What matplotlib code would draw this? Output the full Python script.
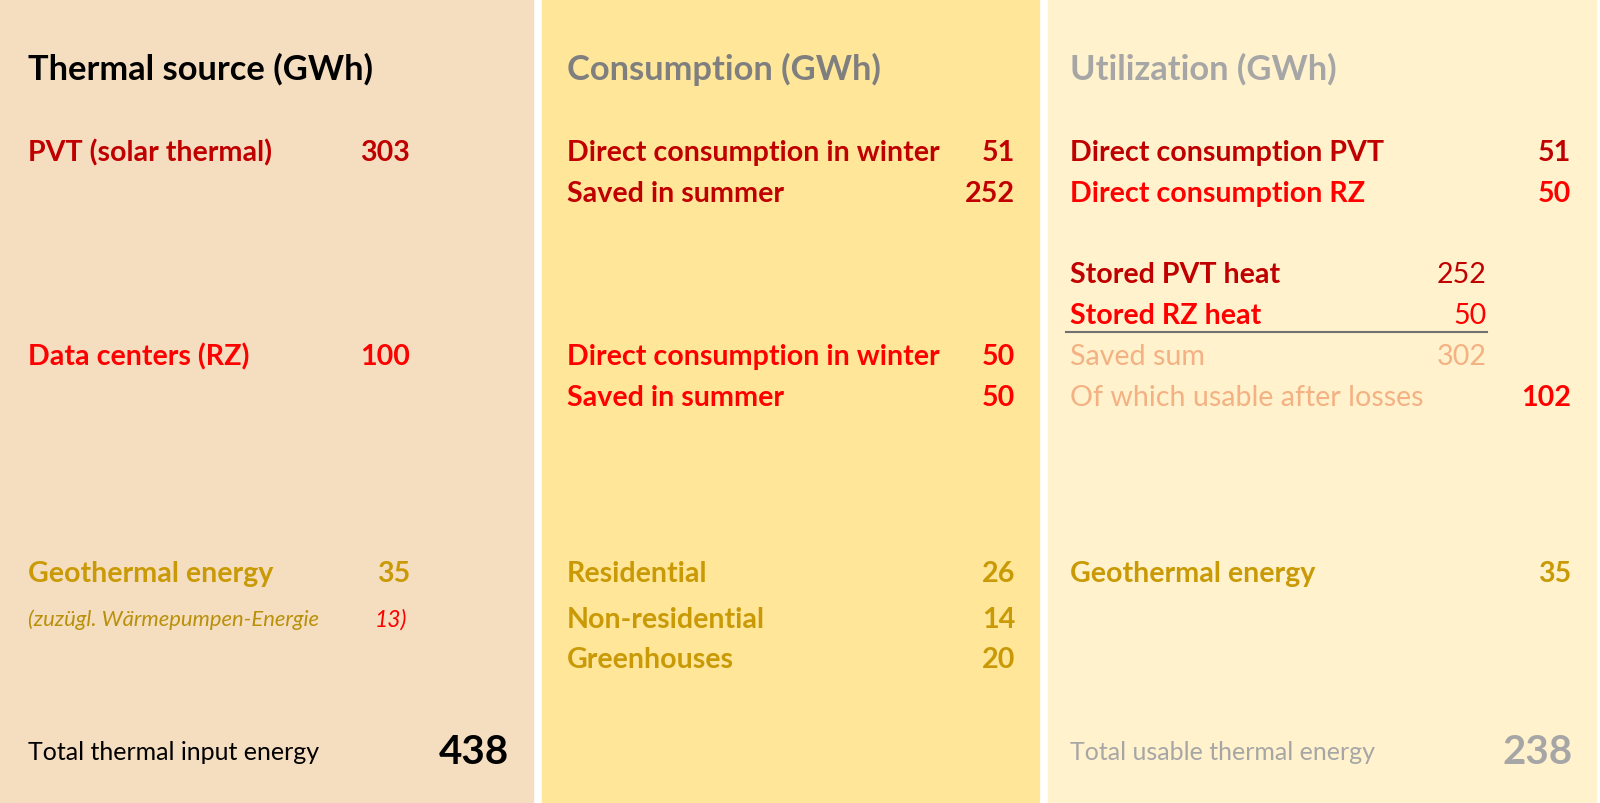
import matplotlib
matplotlib.use("Agg")
import matplotlib.pyplot as plt
from matplotlib.patches import Rectangle

# ---------------- data ----------------
panel_titles = ["Thermal source (GWh)", "Consumption (GWh)", "Utilization (GWh)"]

source_labels = ["PVT (solar thermal)", "Data centers (RZ)", "Geothermal energy"]
source_values = [303, 100, 35]
note_label = "(zuzügl. Wärmepumpen-Energie"
note_value = "13)"
total_input_label = "Total thermal input energy"
total_input_value = 438

consumption_labels = ["Direct consumption in winter", "Saved in summer",
                      "Direct consumption in winter", "Saved in summer",
                      "Residential", "Non-residential", "Greenhouses"]
consumption_values = [51, 252, 50, 50, 26, 14, 20]

util_labels = ["Direct consumption PVT", "Direct consumption RZ", "Of which usable after losses",
               "Geothermal energy"]
util_values = [51, 50, 102, 35]
stored_labels = ["Stored PVT heat", "Stored RZ heat", "Saved sum"]
stored_values = [252, 50, 302]
total_usable_label = "Total usable thermal energy"
total_usable_value = 238

# ---------------- styles ----------------
DARKRED = "#C00000"
RED = "#FF0000"
GOLD = "#C99A06"
GOLDNOTE = "#B8900A"
PINK = "#F4B183"
GRAY = "#7F7F7F"
LGRAY = "#A6A6A6"
FONT = ["Lato", "DejaVu Sans"]

W, H = 1600, 804
fig = plt.figure(figsize=(W / 100, H / 100), dpi=100)
ax = fig.add_axes([0, 0, 1, 1])
ax.set_xlim(0, W)
ax.set_ylim(H, 0)
ax.axis("off")

panels = [(0, 533, "#F5DEC0"), (542, 1039, "#FFE699"), (1048, 1596, "#FFF2CC")]
for x0, x1, c in panels:
    ax.add_patch(Rectangle((x0, 0), x1 - x0, 803, color=c, zorder=0))

ROW = 20.6
TITLE = 24.8
DY = 2


def t(x, y, s, color, size=ROW, weight="bold", ha="left", style="normal"):
    ax.text(x, y + DY, s, color=color, fontsize=size, fontweight=weight, ha=ha, va="center",
            family=FONT, style=style)


# titles
title_x = [28, 567, 1070]
title_c = ["black", GRAY, LGRAY]
for x, s, c in zip(title_x, panel_titles, title_c):
    t(x, 67, s, c, size=TITLE)

# panel 1
src_y = [151, 355, 572]
src_c = [DARKRED, RED, GOLD]
for y, lab, v, c in zip(src_y, source_labels, source_values, src_c):
    t(28, y, lab, c)
    t(410, y, str(v), c, ha="right")
t(28, 618, note_label, GOLDNOTE, size=15.8, weight="normal", style="italic")
t(407, 618, note_value, RED, size=16.5, weight="normal", style="italic", ha="right")
t(28, 751, total_input_label, "black", size=18, weight="normal")
t(509, 751, str(total_input_value), "black", size=29, ha="right")

# panel 2
con_y = [151, 192, 355, 396, 572, 618, 658]
con_c = [DARKRED, DARKRED, RED, RED, GOLD, GOLD, GOLD]
for y, lab, v, c in zip(con_y, consumption_labels, consumption_values, con_c):
    t(567, y, lab, c)
    t(1015, y, str(v), c, ha="right")

# panel 3
ut_y = [151, 192, 396, 572]
ut_lc = [DARKRED, RED, PINK, GOLD]
ut_vc = [DARKRED, RED, RED, GOLD]
ut_w = ["bold", "bold", "normal", "bold"]
for y, lab, v, lc, vc, w in zip(ut_y, util_labels, util_values, ut_lc, ut_vc, ut_w):
    t(1070, y, lab, lc, weight=w)
    t(1571, y, str(v), vc, ha="right")

st_y = [273, 314, 355]
st_c = [DARKRED, RED, PINK]
st_w = ["bold", "bold", "normal"]
for y, lab, v, c, w in zip(st_y, stored_labels, stored_values, st_c, st_w):
    t(1070, y, lab, c, weight=w)
    t(1487, y, str(v), c, weight="normal", ha="right")
ax.plot([1066, 1487], [333, 333], color="#707070", lw=1.5)

t(1070, 751, total_usable_label, LGRAY, size=18, weight="normal")
t(1573, 751, str(total_usable_value), LGRAY, size=29, ha="right")

fig.savefig("out.png", dpi=100)
